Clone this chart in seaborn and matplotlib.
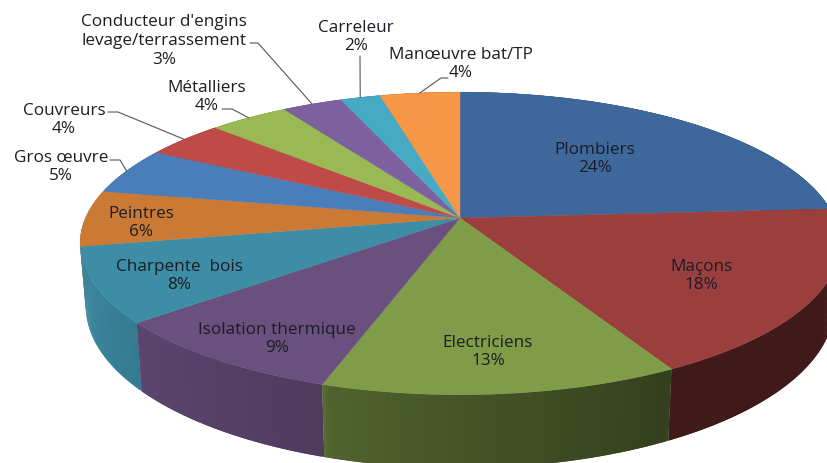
#!/usr/bin/env python3
# -*- coding: utf-8 -*-
#%% load modules
import matplotlib
matplotlib.use('Agg')
import matplotlib.pyplot as plt
import numpy as np
import seaborn as sns

#%% data
metiers = ['Plombiers', 'Maçons', 'Electriciens', 'Isolation thermique',
           'Charpente  bois', 'Peintres', 'Gros œuvre', 'Couvreurs',
           'Métalliers', "Conducteur d'engins\nlevage/terrassement",
           'Carreleur', 'Manœuvre bat/TP']
parts = [24, 18, 13, 9, 8, 6, 5, 4, 4, 3, 2, 4]
couleurs = ['#3E689C', '#9A3F3E', '#7F9C48', '#69507F', '#3D8DA6', '#CB7A36',
            '#4A7EBB', '#BE4B48', '#98B954', '#7D60A0', '#46AAC5', '#F79646']

#%% layout, in pixels of the picture
label_pos = [(595, 159), (701, 276), (488, 352), (277, 339), (179, 276),
             (141, 223), (61, 167), (64, 120), (207, 97), (164, 41),
             (356, 37), (461, 64)]
# elbow of the leader lines, None when the label sits on the slice
leaders = [None, None, None, None, None, None,
           [(110, 160), (120, 160)], [(108, 112), (118, 112)],
           [(222, 109), (232, 109)], [(250, 43), (258, 43)],
           [(360, 56), (360, 57)], [(448, 78), (441, 78)]]

cx, cy = 460, 218      # apex of the pie
R, S, k = 374.5, 147, 0.168   # perspective of the top face
shade_x = [80, 146, 320, 330, 666, 827]
shade_f = [0.95, 0.85, 0.74, 0.63, 0.41, 0.41]


def rim(theta):
    # theta in degrees, clockwise from the top
    t = np.radians(theta)
    w = 1 + k * np.cos(t)
    return cx + R * np.sin(t) / w, cy - S * np.cos(t) / w


def rim_bas(theta):
    x, y = rim(theta)
    return cx + 0.985 * (x - cx), cy + 61 + 1.07 * (y - cy)


#%% make graph
sns.set_theme(style='white')
plt.rcParams['font.family'] = ['Open Sans', 'DejaVu Sans']

fig, ax = plt.subplots(figsize=(8.27, 4.63), dpi=100)
fig.subplots_adjust(left=0, right=1, top=1, bottom=0)
ax.set(xlim=(0, 827), ylim=(463, 0))
ax.axis('off')

palette = sns.color_palette(couleurs)
fins = np.cumsum(parts) / sum(parts) * 360
debuts = np.r_[0, fins[:-1]]

# side of the disc, thin overlapping strips for the shading, back ones first
strips = []
for deb, fin, c in zip(debuts, fins, palette):
    steps = np.arange(deb, fin, 0.4)
    for a in steps:
        strips.append((a, min(a + 0.8, fin), c))
strips.sort(key=lambda s: rim(s[0])[1])
for a, b, c in strips:
    x1, y1 = rim(a)
    x2, y2 = rim(b)
    x3, y3 = rim_bas(b)
    x4, y4 = rim_bas(a)
    f = np.interp((x1 + x2) / 2, shade_x, shade_f)
    ax.fill([x1, x2, x3, x4], [y1, y2, y3, y4], color=tuple(np.array(c) * f), lw=0)

# top face
for deb, fin, c in zip(debuts, fins, palette):
    th = np.linspace(deb, fin, 120)
    x, y = rim(th)
    ax.fill(np.r_[cx, x], np.r_[cy, y], color=c, lw=0.3)

# labels
for nom, v, pos, lead, deb, fin in zip(metiers, parts, label_pos, leaders, debuts, fins):
    ax.text(pos[0], pos[1], f'{nom}\n{v}%', ha='center', va='center',
            fontsize=12.3, color='#1c1c24', linespacing=1.24)
    if lead is not None:
        x_end, y_end = rim((deb + fin) / 2)
        xs = [p[0] for p in lead] + [x_end]
        ys = [p[1] for p in lead] + [y_end]
        ax.plot(xs, ys, color='#555555', lw=0.8)

plt.savefig('out.png', dpi=100)
